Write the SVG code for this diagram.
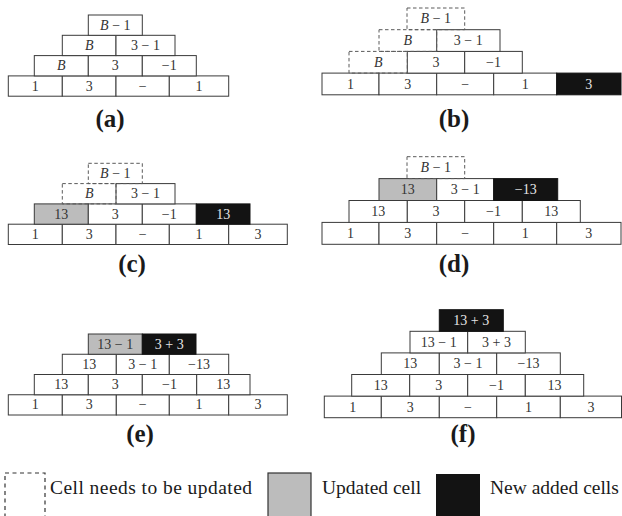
<svg xmlns="http://www.w3.org/2000/svg" width="622" height="516" viewBox="0 0 622 516">
<style>
.c{fill:#fff;stroke:#3a3a3a;stroke-width:1}
.g{fill:#bcbcbc;stroke:#3a3a3a;stroke-width:1}
.k{fill:#131313;stroke:#131313;stroke-width:1}
.d{fill:none;stroke:#5a5a5a;stroke-width:1;stroke-dasharray:3.5 2.5}
.t{font-family:"Liberation Serif","DejaVu Serif",serif;font-size:14px;fill:#333;text-anchor:middle}
.w{fill:#e6e6e6}
.i{font-style:italic}
.lab{font-family:"Liberation Serif","Times New Roman",serif;font-weight:bold;font-size:25px;fill:#1a1a1a;text-anchor:middle}
.leg{font-family:"Liberation Serif","Times New Roman",serif;font-size:19.5px;fill:#1a1a1a}
</style>
<g id="connectors"/>
<!-- Panel a -->
<g id="panel-a">
<g id="a-r4c1"><rect class="c" x="8.3" y="75.9" width="54" height="20.3"/><text class="t" x="35.3" y="90.65">1</text></g>
<g id="a-r4c2"><rect class="c" x="62.3" y="75.9" width="53.7" height="20.3"/><text class="t" x="89.2" y="90.65">3</text></g>
<g id="a-r4c3"><rect class="c" x="116" y="75.9" width="53.3" height="20.3"/><text class="t" x="142.7" y="90.65">−</text></g>
<g id="a-r4c4"><rect class="c" x="169.3" y="75.9" width="59.4" height="20.3"/><text class="t" x="199" y="90.65">1</text></g>
<g id="a-r3c1"><rect class="c" x="34.3" y="55.6" width="54" height="20.3"/><text class="t i" x="61.3" y="70.35">B</text></g>
<g id="a-r3c2"><rect class="c" x="88.3" y="55.6" width="54" height="20.3"/><text class="t" x="115.3" y="70.35">3</text></g>
<g id="a-r3c3"><rect class="c" x="142.3" y="55.6" width="54" height="20.3"/><text class="t" x="169.3" y="70.35">−1</text></g>
<g id="a-r2c1"><rect class="c" x="62.3" y="35.3" width="53.7" height="20.3"/><text class="t i" x="89.2" y="50.05">B</text></g>
<g id="a-r2c2"><rect class="c" x="116" y="35.3" width="59" height="20.3"/><text class="t" x="145.5" y="50.05">3 − 1</text></g>
<g id="a-r1c1"><rect class="c" x="88.3" y="15" width="54" height="20.3"/><text class="t" x="115.3" y="29.75"><tspan class="i">B</tspan> − 1</text></g>
<text class="lab" x="110" y="127">(a)</text>
</g>
<!-- Panel b -->
<g id="panel-b">
<g id="b-r4c1"><rect class="c" x="322" y="73.1" width="57" height="21.7"/><text class="t" x="350.5" y="88.55">1</text></g>
<g id="b-r4c2"><rect class="c" x="379" y="73.1" width="57.7" height="21.7"/><text class="t" x="407.8" y="88.55">3</text></g>
<g id="b-r4c3"><rect class="c" x="436.7" y="73.1" width="57" height="21.7"/><text class="t" x="465.2" y="88.55">−</text></g>
<g id="b-r4c4"><rect class="c" x="493.7" y="73.1" width="63" height="21.7"/><text class="t" x="525.2" y="88.55">1</text></g>
<g id="b-r4c5"><rect class="k" x="556.7" y="73.1" width="64.3" height="21.7"/><text class="t w" x="588.8" y="88.55">3</text></g>
<g id="b-r3c2"><rect class="c" x="407.3" y="51.4" width="57.4" height="21.7"/><text class="t" x="436" y="66.85">3</text></g>
<g id="b-r3c3"><rect class="c" x="464.7" y="51.4" width="57.6" height="21.7"/><text class="t" x="493.5" y="66.85">−1</text></g>
<g id="b-r2c2"><rect class="c" x="436.7" y="29.7" width="63.3" height="21.7"/><text class="t" x="468.3" y="45.15">3 − 1</text></g>
<g id="b-r3c1"><rect class="d" x="349" y="51.4" width="58.3" height="21.7"/><text class="t i" x="378.2" y="66.85">B</text></g>
<g id="b-r2c1"><rect class="d" x="379" y="29.7" width="57.7" height="21.7"/><text class="t i" x="407.8" y="45.15">B</text></g>
<g id="b-r1c1"><rect class="d" x="407" y="8" width="57.7" height="21.7"/><text class="t" x="435.8" y="23.45"><tspan class="i">B</tspan> − 1</text></g>
<text class="lab" x="454" y="127">(b)</text>
</g>
<!-- Panel c -->
<g id="panel-c">
<g id="c-r4c1"><rect class="c" x="8.3" y="224.2" width="54" height="20.3"/><text class="t" x="35.3" y="238.95">1</text></g>
<g id="c-r4c2"><rect class="c" x="62.3" y="224.2" width="53.7" height="20.3"/><text class="t" x="89.2" y="238.95">3</text></g>
<g id="c-r4c3"><rect class="c" x="116" y="224.2" width="53.3" height="20.3"/><text class="t" x="142.7" y="238.95">−</text></g>
<g id="c-r4c4"><rect class="c" x="169.3" y="224.2" width="59.4" height="20.3"/><text class="t" x="199" y="238.95">1</text></g>
<g id="c-r4c5"><rect class="c" x="228.7" y="224.2" width="58.6" height="20.3"/><text class="t" x="258" y="238.95">3</text></g>
<g id="c-r3c1"><rect class="g" x="34.3" y="203.9" width="54" height="20.3"/><text class="t" x="61.3" y="218.65">13</text></g>
<g id="c-r3c2"><rect class="c" x="88.3" y="203.9" width="54" height="20.3"/><text class="t" x="115.3" y="218.65">3</text></g>
<g id="c-r3c3"><rect class="c" x="142.3" y="203.9" width="54" height="20.3"/><text class="t" x="169.3" y="218.65">−1</text></g>
<g id="c-r3c4"><rect class="k" x="196.3" y="203.9" width="53.7" height="20.3"/><text class="t w" x="223.2" y="218.65">13</text></g>
<g id="c-r2c2"><rect class="c" x="116" y="183.6" width="59" height="20.3"/><text class="t" x="145.5" y="198.35">3 − 1</text></g>
<g id="c-r2c1"><rect class="d" x="62.3" y="183.6" width="53.7" height="20.3"/><text class="t i" x="89.2" y="198.35">B</text></g>
<g id="c-r1c1"><rect class="d" x="88.3" y="163.3" width="54" height="20.3"/><text class="t" x="115.3" y="178.05"><tspan class="i">B</tspan> − 1</text></g>
<text class="lab" x="132" y="272">(c)</text>
</g>
<!-- Panel d -->
<g id="panel-d">
<g id="d-r4c1"><rect class="c" x="322" y="222.4" width="57" height="21.9"/><text class="t" x="350.5" y="237.95">1</text></g>
<g id="d-r4c2"><rect class="c" x="379" y="222.4" width="57.7" height="21.9"/><text class="t" x="407.8" y="237.95">3</text></g>
<g id="d-r4c3"><rect class="c" x="436.7" y="222.4" width="57" height="21.9"/><text class="t" x="465.2" y="237.95">−</text></g>
<g id="d-r4c4"><rect class="c" x="493.7" y="222.4" width="63" height="21.9"/><text class="t" x="525.2" y="237.95">1</text></g>
<g id="d-r4c5"><rect class="c" x="556.7" y="222.4" width="64.3" height="21.9"/><text class="t" x="588.8" y="237.95">3</text></g>
<g id="d-r3c1"><rect class="c" x="349" y="200.5" width="58.3" height="21.9"/><text class="t" x="378.2" y="216.05">13</text></g>
<g id="d-r3c2"><rect class="c" x="407.3" y="200.5" width="57.4" height="21.9"/><text class="t" x="436" y="216.05">3</text></g>
<g id="d-r3c3"><rect class="c" x="464.7" y="200.5" width="57.6" height="21.9"/><text class="t" x="493.5" y="216.05">−1</text></g>
<g id="d-r3c4"><rect class="c" x="522.3" y="200.5" width="58" height="21.9"/><text class="t" x="551.3" y="216.05">13</text></g>
<g id="d-r2c1"><rect class="g" x="379" y="178.6" width="57.7" height="21.9"/><text class="t" x="407.8" y="194.15">13</text></g>
<g id="d-r2c2"><rect class="c" x="436.7" y="178.6" width="57" height="21.9"/><text class="t" x="465.2" y="194.15">3 − 1</text></g>
<g id="d-r2c3"><rect class="k" x="493.7" y="178.6" width="64" height="21.9"/><text class="t w" x="525.7" y="194.15">−13</text></g>
<g id="d-r1c1"><rect class="d" x="407" y="156.7" width="57.7" height="21.9"/><text class="t" x="435.8" y="172.25"><tspan class="i">B</tspan> − 1</text></g>
<text class="lab" x="454" y="272">(d)</text>
</g>
<!-- Panel e -->
<g id="panel-e">
<g id="e-r4c1"><rect class="c" x="8.3" y="394.75" width="54" height="20.25"/><text class="t" x="35.3" y="409.45">1</text></g>
<g id="e-r4c2"><rect class="c" x="62.3" y="394.75" width="54" height="20.25"/><text class="t" x="89.3" y="409.45">3</text></g>
<g id="e-r4c3"><rect class="c" x="116.3" y="394.75" width="53" height="20.25"/><text class="t" x="142.8" y="409.45">−</text></g>
<g id="e-r4c4"><rect class="c" x="169.3" y="394.75" width="59.4" height="20.25"/><text class="t" x="199" y="409.45">1</text></g>
<g id="e-r4c5"><rect class="c" x="228.7" y="394.75" width="58.6" height="20.25"/><text class="t" x="258" y="409.45">3</text></g>
<g id="e-r3c1"><rect class="c" x="34.3" y="374.5" width="54" height="20.25"/><text class="t" x="61.3" y="389.2">13</text></g>
<g id="e-r3c2"><rect class="c" x="88.3" y="374.5" width="54" height="20.25"/><text class="t" x="115.3" y="389.2">3</text></g>
<g id="e-r3c3"><rect class="c" x="142.3" y="374.5" width="54.4" height="20.25"/><text class="t" x="169.5" y="389.2">−1</text></g>
<g id="e-r3c4"><rect class="c" x="196.7" y="374.5" width="53.3" height="20.25"/><text class="t" x="223.3" y="389.2">13</text></g>
<g id="e-r2c1"><rect class="c" x="62.3" y="354.25" width="54" height="20.25"/><text class="t" x="89.3" y="368.95">13</text></g>
<g id="e-r2c2"><rect class="c" x="116.3" y="354.25" width="53" height="20.25"/><text class="t" x="142.8" y="368.95">3 − 1</text></g>
<g id="e-r2c3"><rect class="c" x="169.3" y="354.25" width="59.4" height="20.25"/><text class="t" x="199" y="368.95">−13</text></g>
<g id="e-r1c1"><rect class="g" x="88.3" y="334" width="54" height="20.25"/><text class="t" x="115.3" y="348.7">13 − 1</text></g>
<g id="e-r1c2"><rect class="k" x="142.3" y="334" width="53.7" height="20.25"/><text class="t w" x="169.2" y="348.7">3 + 3</text></g>
<text class="lab" x="140" y="442">(e)</text>
</g>
<!-- Panel f -->
<g id="panel-f">
<g id="f-r5c1"><rect class="c" x="324.3" y="396.1" width="57" height="21.6"/><text class="t" x="352.8" y="411.5">1</text></g>
<g id="f-r5c2"><rect class="c" x="381.3" y="396.1" width="58" height="21.6"/><text class="t" x="410.3" y="411.5">3</text></g>
<g id="f-r5c3"><rect class="c" x="439.3" y="396.1" width="57.4" height="21.6"/><text class="t" x="468" y="411.5">−</text></g>
<g id="f-r5c4"><rect class="c" x="496.7" y="396.1" width="63.6" height="21.6"/><text class="t" x="528.5" y="411.5">1</text></g>
<g id="f-r5c5"><rect class="c" x="560.3" y="396.1" width="61.2" height="21.6"/><text class="t" x="591" y="411.5">3</text></g>
<g id="f-r4c1"><rect class="c" x="351.7" y="374.5" width="58" height="21.6"/><text class="t" x="380.7" y="389.9">13</text></g>
<g id="f-r4c2"><rect class="c" x="409.7" y="374.5" width="58" height="21.6"/><text class="t" x="438.7" y="389.9">3</text></g>
<g id="f-r4c3"><rect class="c" x="467.7" y="374.5" width="57.6" height="21.6"/><text class="t" x="496.5" y="389.9">−1</text></g>
<g id="f-r4c4"><rect class="c" x="525.3" y="374.5" width="58.4" height="21.6"/><text class="t" x="554.5" y="389.9">13</text></g>
<g id="f-r3c1"><rect class="c" x="381.3" y="352.9" width="58" height="21.6"/><text class="t" x="410.3" y="368.3">13</text></g>
<g id="f-r3c2"><rect class="c" x="439.3" y="352.9" width="57.4" height="21.6"/><text class="t" x="468" y="368.3">3 − 1</text></g>
<g id="f-r3c3"><rect class="c" x="496.7" y="352.9" width="63.6" height="21.6"/><text class="t" x="528.5" y="368.3">−13</text></g>
<g id="f-r2c1"><rect class="c" x="410" y="331.3" width="57.7" height="21.6"/><text class="t" x="438.8" y="346.7">13 − 1</text></g>
<g id="f-r2c2"><rect class="c" x="467.7" y="331.3" width="57.6" height="21.6"/><text class="t" x="496.5" y="346.7">3 + 3</text></g>
<g id="f-r1c1"><rect class="k" x="439.3" y="309.7" width="64" height="21.6"/><text class="t w" x="471.3" y="325.1">13 + 3</text></g>
<text class="lab" x="463" y="442">(f)</text>
</g>
<!-- Legend -->
<g id="legend-dashed"><rect x="5" y="473" width="40" height="46" fill="none" stroke="#333" stroke-width="1.2" stroke-dasharray="4 3.5"/><text class="leg" x="50" y="494" textLength="202" lengthAdjust="spacing">Cell needs to be updated</text></g>
<g id="legend-updated"><rect x="268" y="473" width="43" height="46" fill="#bcbcbc" stroke="#333" stroke-width="1.2"/><text class="leg" x="322" y="494">Updated cell</text></g>
<g id="legend-new"><rect x="436" y="474" width="44" height="45" fill="#131313"/><text class="leg" x="490" y="494">New added cells</text></g>
</svg>
